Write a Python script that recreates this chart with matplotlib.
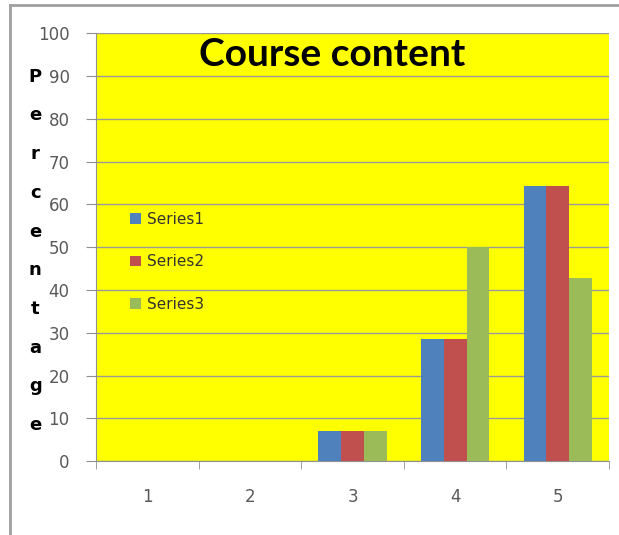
import numpy as np
import matplotlib.pyplot as plt
from matplotlib.lines import Line2D

categories = ['1', '2', '3', '4', '5']
series1 = [0, 0, 7.14, 28.57, 64.29]
series2 = [0, 0, 7.14, 28.57, 64.29]
series3 = [0, 0, 7.14, 50.0, 42.86]
series_names = ['Series1', 'Series2', 'Series3']
colors = ['#4f81bd', '#c0504d', '#9bbb59']

fig = plt.figure(figsize=(6.19, 5.35), dpi=100)
ax = fig.add_axes([0.155, 0.138, 0.829, 0.800])
ax.set_facecolor('#ffff00')

x = np.arange(len(categories))
w = 0.222
for i, (vals, name) in enumerate(zip([series1, series2, series3], series_names)):
    ax.bar(x + (i - 1) * w, vals, w, color=colors[i], label=name, zorder=3)

ax.set_xlim(-0.5, 4.5)
ax.set_ylim(0, 100)
ax.set_yticks(np.arange(0, 101, 10))
ax.set_xticks(x)
ax.set_xticklabels(categories)
ax.set_xticks(np.arange(-0.5, 5, 1), minor=True)
ax.grid(axis='y', color='#999999', linewidth=1, zorder=1)

ax.tick_params(axis='y', length=7, color='#909090', pad=12, labelsize=12, labelcolor='#595959')
ax.tick_params(axis='x', which='major', length=0, pad=19, labelsize=12, labelcolor='#595959')
ax.tick_params(axis='x', which='minor', length=6, color='#909090')

for s in ['top', 'right']:
    ax.spines[s].set_visible(False)
for s in ['left', 'bottom']:
    ax.spines[s].set_color('#909090')

ax.text(0.46, 0.949, 'Course content', transform=ax.transAxes, ha='center', va='center',
        fontsize=28, fontweight='bold', family='Lato', color='black')

fig.text(0.057, 0.531, '\n'.join('Percentage'), ha='center', va='center',
         fontsize=13, fontweight='bold', linespacing=2.48)

ax.legend(loc='upper left', bbox_to_anchor=(0.04, 0.615), frameon=False, fontsize=11,
          handlelength=0.7, handleheight=0.7, handletextpad=0.4, labelspacing=1.8,
          labelcolor='#333333')

fig.add_artist(Line2D([10 / 619, 10 / 619], [0, 1 - 5 / 535], color='#a0a0a0', linewidth=2))
fig.add_artist(Line2D([10 / 619, 1], [1 - 5 / 535, 1 - 5 / 535], color='#a0a0a0', linewidth=2))

plt.savefig('out.png')
